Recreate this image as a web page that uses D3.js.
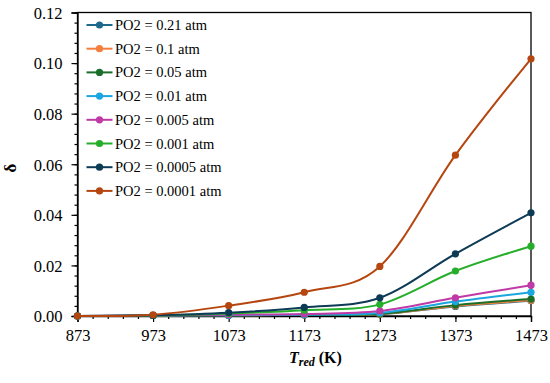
<!DOCTYPE html>
<html><head><meta charset="utf-8">
<script src="https://cdn.jsdelivr.net/npm/d3@7"></script>
<style>
html,body{margin:0;padding:0;background:#fff;}
text{font-family:"Liberation Serif","Times New Roman",serif;}
</style></head>
<body><svg id="c" width="550" height="383"></svg>
<script>
const temps = [873, 973, 1073, 1173, 1273, 1373, 1473];
const seriesNames = ["PO2 = 0.21 atm","PO2 = 0.1 atm","PO2 = 0.05 atm","PO2 = 0.01 atm","PO2 = 0.005 atm","PO2 = 0.001 atm","PO2 = 0.0005 atm","PO2 = 0.0001 atm"];
const colors = ["#1d6a8c","#f47f3c","#1a6e2a","#1aa6df","#bf3aa6","#25ae2a","#0d3a55","#b5460f"];
const d021   = [0, 0.0002, 0.0003, 0.0004, 0.0007, 0.0038, 0.0060];
const d01    = [0, 0.0002, 0.0003, 0.0004, 0.0007, 0.0040, 0.0062];
const d005   = [0, 0.0002, 0.0003, 0.0004, 0.0008, 0.0043, 0.0067];
const d001   = [0, 0.0002, 0.0003, 0.0005, 0.0012, 0.0057, 0.0094];
const d0005  = [0, 0.0002, 0.0005, 0.0008, 0.0020, 0.0072, 0.0122];
const d0001  = [0, 0.0002, 0.0010, 0.0023, 0.0046, 0.0178, 0.0276];
const d00005 = [0, 0.0003, 0.0013, 0.0034, 0.0072, 0.0246, 0.0408];
const d00001 = [0, 0.0005, 0.0041, 0.0094, 0.0196, 0.0636, 0.1017];
const seriesValues = [d021, d01, d005, d001, d0005, d0001, d00005, d00001];
const xTicks = [873, 973, 1073, 1173, 1273, 1373, 1473];
const yTicks = [0, 0.02, 0.04, 0.06, 0.08, 0.10, 0.12];

const svg = d3.select("#c");
const L = 77.5, R = 531, T = 12.5, B = 316;
const x = d3.scaleLinear().domain([873, 1473]).range([L, R]);
const y = d3.scaleLinear().domain([0, 0.12]).range([B, T]);

// frame
svg.append("rect").attr("x", L).attr("y", T).attr("width", R - L).attr("height", B - T)
  .attr("fill", "none").attr("stroke", "#000").attr("stroke-width", 1.3);

// y axis
const yMinor = d3.range(0, 0.1201, 0.004);
const ya = svg.append("g").attr("transform", `translate(${L},0)`);
ya.call(d3.axisLeft(y).tickValues(yMinor).tickSize(3).tickFormat(""));
ya.call(g => g.select(".domain").remove());
const yb = svg.append("g").attr("transform", `translate(${L},0)`);
yb.call(d3.axisLeft(y).tickValues(yTicks).tickSize(6).tickPadding(9).tickFormat(d3.format(".2f")));
yb.selectAll("text").attr("font-size", 16.5).attr("fill", "#000").attr("font-family", "Liberation Serif").attr("dy", "0.35em");
[ya, yb].forEach(g => { g.select(".domain").attr("stroke", "#000").attr("stroke-width", 1.3); g.selectAll("line").attr("stroke", "#000").attr("stroke-width", 1.2); });

// x axis
const xMinor = d3.range(873, 1474, 20);
const xa = svg.append("g").attr("transform", `translate(0,${B})`);
xa.call(d3.axisBottom(x).tickValues(xMinor).tickSize(3).tickFormat(""));
xa.call(g => g.select(".domain").remove());
const xb = svg.append("g").attr("transform", `translate(0,${B})`);
xb.call(d3.axisBottom(x).tickValues(xTicks).tickSize(6).tickPadding(7).tickFormat(d3.format("d")));
xb.selectAll("text").attr("font-size", 16.5).attr("fill", "#000").attr("font-family", "Liberation Serif");
[xa, xb].forEach(g => { g.select(".domain").attr("stroke", "#000").attr("stroke-width", 1.3); g.selectAll("line").attr("stroke", "#000").attr("stroke-width", 1.2); });

// lines
const line = d3.line().x((d, i) => x(temps[i])).y(d => y(d)).curve(d3.curveCardinal.tension(0));
seriesValues.forEach((vals, k) => {
  svg.append("path").datum(vals).attr("d", line).attr("fill", "none")
    .attr("stroke", colors[k]).attr("stroke-width", 2);
});
seriesValues.forEach((vals, k) => {
  svg.append("g").selectAll("circle").data(vals).join("circle")
    .attr("cx", (d, i) => x(temps[i])).attr("cy", d => y(d)).attr("r", 3.6)
    .attr("fill", colors[k]);
});

// legend
const lg = svg.append("g");
seriesNames.forEach((name, k) => {
  const yy = 25 + k * 23.7;
  lg.append("line").attr("x1", 86.5).attr("x2", 112.5).attr("y1", yy).attr("y2", yy)
    .attr("stroke", colors[k]).attr("stroke-width", 2);
  lg.append("circle").attr("cx", 99.5).attr("cy", yy).attr("r", 3.6).attr("fill", colors[k]);
  lg.append("text").attr("x", 115).attr("y", yy).attr("dy", "0.35em")
    .attr("font-size", 14.5).attr("fill", "#000").text(name);
});

// axis titles
const xt = svg.append("text").attr("x", 289).attr("y", 363).attr("font-size", 16)
  .attr("font-weight", "bold").attr("fill", "#000");
xt.append("tspan").attr("font-style", "italic").text("T");
xt.append("tspan").attr("font-style", "italic").attr("font-size", 12).attr("dy", 3).text("red");
xt.append("tspan").attr("dy", -3).text(" (K)");

svg.append("text").attr("transform", "translate(16,168) rotate(-90)").attr("text-anchor", "middle")
  .attr("font-size", 17).attr("font-weight", "bold").attr("fill", "#000").text("δ");
</script></body></html>
